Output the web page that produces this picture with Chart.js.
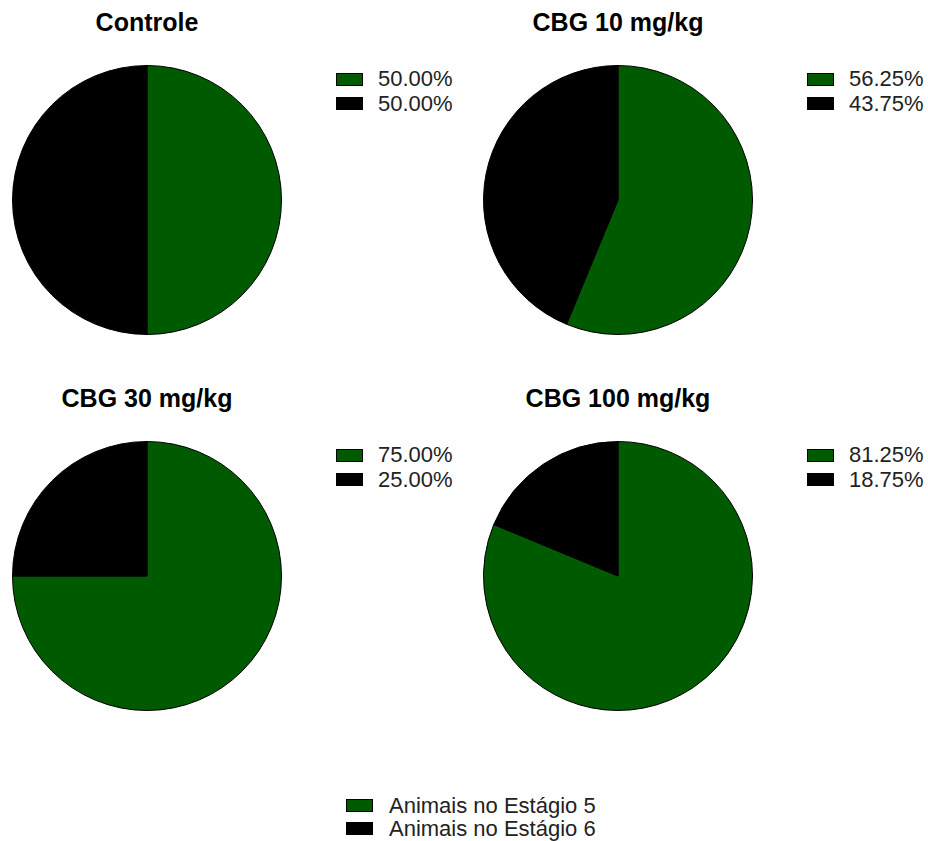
<!DOCTYPE html>
<html>
<head>
<meta charset="utf-8">
<script src="https://cdn.jsdelivr.net/npm/chart.js@4.4.1/dist/chart.umd.min.js"></script>
<style>
  html, body { margin: 0; padding: 0; background: #fff; }
  body { width: 928px; height: 841px; position: relative; overflow: hidden;
         font-family: "Liberation Sans", Arial, sans-serif; }
  .title { position: absolute; width: 300px; text-align: center; font-weight: bold;
           font-size: 25px; color: #000; line-height: 28px; }
  .pie { position: absolute; width: 270px; height: 270px; }
  .legend { position: absolute; color: #222; white-space: nowrap; line-height: 1; }
  .row { display: flex; align-items: center; }
  .box { width: 25px; height: 11px; border: 1px solid #000; flex: none; }
</style>
</head>
<body>
<script>
// Stage categories and colours
const categories = ['Animais no Estágio 5', 'Animais no Estágio 6'];
const sliceColors = ['#005a00', '#000000'];

// Group names and percentage of animals per stage
const groups = ['Controle', 'CBG 10 mg/kg', 'CBG 30 mg/kg', 'CBG 100 mg/kg'];
const controle = [50.00, 50.00];
const cbg10 = [56.25, 43.75];
const cbg30 = [75.00, 25.00];
const cbg100 = [81.25, 18.75];
const groupValues = [controle, cbg10, cbg30, cbg100];

// Panel placement (left, top) for each group
const panels = [[12, 65], [483, 65], [12, 441], [483, 441]];

function el(tag, cls, parent) {
  const e = document.createElement(tag);
  if (cls) e.className = cls;
  parent.appendChild(e);
  return e;
}

function addLegend(labels, left, top, fontSize, gap, rowH) {
  const lg = el('div', 'legend', document.body);
  lg.style.left = left + 'px';
  lg.style.top = top + 'px';
  lg.style.fontSize = fontSize + 'px';
  labels.forEach((txt, i) => {
    const r = el('div', 'row', lg);
    r.style.height = rowH + 'px';
    const b = el('span', 'box', r);
    b.style.background = sliceColors[i];
    b.style.marginRight = gap + 'px';
    el('span', '', r).textContent = txt;
  });
  return lg;
}

groups.forEach((name, g) => {
  const [x, y] = panels[g];
  const t = el('div', 'title', document.body);
  t.textContent = name;
  t.style.left = (x + 135 - 150) + 'px';
  t.style.top = (y - 57) + 'px';

  const wrap = el('div', 'pie', document.body);
  wrap.style.left = x + 'px';
  wrap.style.top = y + 'px';
  const cv = el('canvas', '', wrap);

  new Chart(cv, {
    type: 'pie',
    data: {
      labels: categories,
      datasets: [{
        data: groupValues[g],
        backgroundColor: sliceColors,
        borderColor: '#000',
        borderWidth: 1
      }]
    },
    options: {
      responsive: true,
      maintainAspectRatio: false,
      animation: false,
      layout: { padding: 0 },
      plugins: { legend: { display: false }, tooltip: { enabled: false } }
    }
  });

  addLegend(groupValues[g].map(v => v.toFixed(2) + '%'), x + 324, y + 2, 22, 15, 24.5);
});

// Shared legend for the stage categories
addLegend(categories, 346, 794, 22, 16, 23);
</script>
</body>
</html>
